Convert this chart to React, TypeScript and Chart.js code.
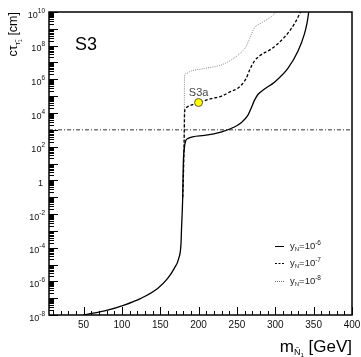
import { useEffect, useRef } from "react";
import { Chart, registerables } from "chart.js";

Chart.register(...registerables);

// ---- data ----
const solidX = [50, 81.3, 103, 124.8, 146.6, 159.7, 168.3, 174.1, 177.1, 177.7, 179.3, 180.1, 181.4, 183, 185.8, 207.5, 229.3, 246.7, 255.5, 264.2, 268.5, 272.8, 277.6, 285.5, 298.9, 316.4, 329.5, 338.1, 341.6, 343.6];
const solidY = [1e-8, 1.95e-8, 3.9e-8, 9.8e-8, 3.8e-7, 1.5e-6, 5.9e-6, 2.3e-5, 1.8e-4, 1.1e-3, 9.8e-2, 10.2, 79, 209, 302, 468, 741, 1480, 2630, 7200, 1.9e4, 5.6e4, 1.3e5, 2.57e5, 6.8e5, 4.5e6, 4.6e7, 5.2e8, 2.5e9, 1e10];

const dashedX = [179.3, 180.6, 181.4, 181.7, 183, 190.1, 201, 216.3, 229.3, 242.4, 251.1, 262, 267, 273, 280, 294.6, 312, 325, 332.9];
const dashedY = [9.8e-2, 10, 1000, 1e4, 1.9e4, 2.9e4, 4.2e4, 7.1e4, 9.8e4, 1.95e5, 2.95e5, 1.12e6, 4e6, 1.26e7, 2.6e7, 6.3e7, 3.2e8, 2e9, 1e10];

const dottedX = [179.3, 180.6, 181.4, 181.6, 183.6, 190.1, 207.5, 229.3, 242.4, 255.5, 262, 266.3, 272.8, 283.8, 296.8, 301.1];
const dottedY = [9.8e-2, 10, 1e4, 1.5e6, 2.2e6, 3.1e6, 4.4e6, 7.1e6, 1.4e7, 4e7, 8.9e7, 2.5e8, 1.12e9, 2.5e9, 6.3e9, 1e10];

const limitX = [5, 400];
const limitY = [1000, 1000];

const benchmarkX = [200];
const benchmarkY = [4.2e4];
const benchmarkLabel = "S3a";
const panelLabel = "S3";

const xLabelValues = [50, 100, 150, 200, 250, 300, 350, 400];
const yExponents = [-8, -7, -6, -5, -4, -3, -2, -1, 0, 1, 2, 3, 4, 5, 6, 7, 8, 9, 10];
const legendExps = ["-6", "-7", "-8"];

const FONT = '"Liberation Sans", Arial, Helvetica, sans-serif';

type Part = { t: string; s: number; dy: number };

function richWidth(ctx: CanvasRenderingContext2D, parts: Part[]) {
  let w = 0;
  for (const p of parts) {
    ctx.font = `${p.s}px ${FONT}`;
    w += ctx.measureText(p.t).width;
  }
  return w;
}
function drawRich(ctx: CanvasRenderingContext2D, parts: Part[], x: number, y: number) {
  let cx = x;
  ctx.textAlign = "left";
  ctx.textBaseline = "alphabetic";
  for (const p of parts) {
    ctx.font = `${p.s}px ${FONT}`;
    ctx.fillText(p.t, cx, y + p.dy);
    cx += ctx.measureText(p.t).width;
  }
}

const framePlugin = {
  id: "framePlugin",
  afterDraw(chart: any) {
    const { ctx, chartArea } = chart;
    const { left, right, top, bottom } = chartArea;
    const xs = chart.scales.x;
    const ys = chart.scales.y;
    ctx.save();
    ctx.strokeStyle = "#000";
    ctx.fillStyle = "#111";
    ctx.lineWidth = 1.5;
    ctx.strokeRect(left, top, right - left, bottom - top);

    // x ticks
    ctx.lineWidth = 1;
    for (let v = 10; v <= 400; v += 10) {
      const px = Math.round(xs.getPixelForValue(v)) + 0.5;
      const len = v % 50 === 0 ? 8 : 4;
      ctx.beginPath();
      ctx.moveTo(px, bottom);
      ctx.lineTo(px, bottom - len);
      ctx.stroke();
    }
    ctx.font = `10px ${FONT}`;
    ctx.textAlign = "center";
    ctx.textBaseline = "middle";
    for (const v of xLabelValues) {
      ctx.fillText(String(v), xs.getPixelForValue(v), bottom + 10);
    }

    // y ticks
    for (const e of yExponents) {
      for (let k = 1; k <= 9; k++) {
        const val = k * Math.pow(10, e);
        if (val > 1e10) break;
        const py = Math.round(ys.getPixelForValue(val)) + 0.5;
        const len = k === 1 ? 9 : 5;
        ctx.beginPath();
        ctx.moveTo(left, py);
        ctx.lineTo(left + len, py);
        ctx.stroke();
      }
    }
    for (const e of yExponents) {
      if (e % 2 !== 0) continue;
      const py = ys.getPixelForValue(Math.pow(10, e));
      if (e === 0) {
        ctx.font = `9px ${FONT}`;
        ctx.textAlign = "right";
        ctx.textBaseline = "alphabetic";
        ctx.fillText("1", left - 6, py + 5.5);
        continue;
      }
      const parts: Part[] = [
        { t: "10", s: 9, dy: 5.5 },
        { t: String(e), s: 6.5, dy: 0.5 },
      ];
      const w = richWidth(ctx, parts);
      drawRich(ctx, parts, left - 4 - w, py);
    }

    // axis titles
    ctx.fillStyle = "#000";
    const xt: Part[] = [
      { t: "m", s: 17, dy: 0 },
      { t: "Ñ", s: 9, dy: 3 },
      { t: "1", s: 6, dy: 5 },
      { t: " [GeV]", s: 17, dy: 0 },
    ];
    const xw = richWidth(ctx, xt);
    drawRich(ctx, xt, right - xw, 352);

    ctx.save();
    ctx.translate(17, top);
    ctx.rotate(-Math.PI / 2);
    const yt: Part[] = [
      { t: "cτ", s: 12.5, dy: 0 },
      { t: "τ̃", s: 8, dy: 3 },
      { t: "1", s: 5.5, dy: 4.5 },
      { t: " [cm]", s: 12.5, dy: 0 },
    ];
    const yw = richWidth(ctx, yt);
    drawRich(ctx, yt, -yw, 0);
    ctx.restore();

    // panel label
    ctx.font = `18px ${FONT}`;
    ctx.textAlign = "left";
    ctx.textBaseline = "alphabetic";
    ctx.fillText(panelLabel, 75, 50);

    // benchmark label
    ctx.fillStyle = "#444";
    ctx.font = `11px ${FONT}`;
    ctx.textAlign = "center";
    const bx = xs.getPixelForValue(benchmarkX[0]);
    const by = ys.getPixelForValue(benchmarkY[0]);
    ctx.fillText(benchmarkLabel, bx, by - 7);

    // legend
    const rows = [246, 263, 281];
    const styles = [
      { dash: [] as number[], color: "#000" },
      { dash: [2, 1.5], color: "#000" },
      { dash: [1, 1], color: "#777" },
    ];
    for (let i = 0; i < 3; i++) {
      const ry = rows[i];
      ctx.save();
      ctx.strokeStyle = styles[i].color;
      ctx.lineWidth = 1;
      ctx.setLineDash(styles[i].dash);
      ctx.beginPath();
      ctx.moveTo(275, ry + 0.5);
      ctx.lineTo(284, ry + 0.5);
      ctx.stroke();
      ctx.restore();
      ctx.fillStyle = "#222";
      const lp: Part[] = [
        { t: "y", s: 9.5, dy: 0 },
        { t: "N", s: 6, dy: 2 },
        { t: "=10", s: 9.5, dy: 0 },
        { t: legendExps[i], s: 6.5, dy: -4 },
      ];
      drawRich(ctx, lp, 290, ry + 3);
    }
    ctx.restore();
  },
};

function pts(xs: number[], ys: number[]) {
  return xs.map((x, i) => ({ x, y: ys[i] }));
}

export default function App() {
  const ref = useRef<HTMLCanvasElement>(null);
  useEffect(() => {
    if (!ref.current) return;
    const chart = new Chart(ref.current, {
      type: "line",
      data: {
        datasets: [
          {
            data: pts(benchmarkX, benchmarkY),
            showLine: false,
            pointRadius: 4,
            pointBackgroundColor: "#ffff00",
            pointBorderColor: "#333",
            pointBorderWidth: 0.8,
          },
          {
            data: pts(solidX, solidY),
            borderColor: "#000",
            borderWidth: 1.3,
            pointRadius: 0,
            cubicInterpolationMode: "monotone",
          },
          {
            data: pts(dashedX, dashedY),
            borderColor: "#000",
            borderWidth: 1.3,
            borderDash: [3, 2],
            pointRadius: 0,
            cubicInterpolationMode: "monotone",
          },
          {
            data: pts(dottedX, dottedY),
            borderColor: "#888",
            borderWidth: 1,
            borderDash: [1, 1.2],
            pointRadius: 0,
            cubicInterpolationMode: "monotone",
          },
          {
            data: pts(limitX, limitY),
            borderColor: "#333",
            borderWidth: 1,
            borderDash: [4, 2, 1, 2],
            pointRadius: 0,
          },
        ],
      },
      options: {
        animation: false,
        responsive: true,
        maintainAspectRatio: false,
        layout: { padding: { left: 0, top: 12, right: 9, bottom: 0 } },
        plugins: { legend: { display: false }, tooltip: { enabled: false } },
        scales: {
          x: {
            type: "linear",
            min: 5,
            max: 400,
            grid: { display: false },
            border: { display: false },
            ticks: { display: false },
            afterFit: (s: any) => {
              s.height = 42;
            },
          },
          y: {
            type: "logarithmic",
            min: 1e-8,
            max: 1e10,
            grid: { display: false },
            border: { display: false },
            ticks: { display: false },
            afterFit: (s: any) => {
              s.width = 49;
            },
          },
        },
      },
      plugins: [framePlugin],
    } as any);
    return () => chart.destroy();
  }, []);
  return (
    <div style={{ position: "absolute", left: 0, top: 0, width: 361, height: 357, background: "#fff" }}>
      <canvas ref={ref} />
    </div>
  );
}
